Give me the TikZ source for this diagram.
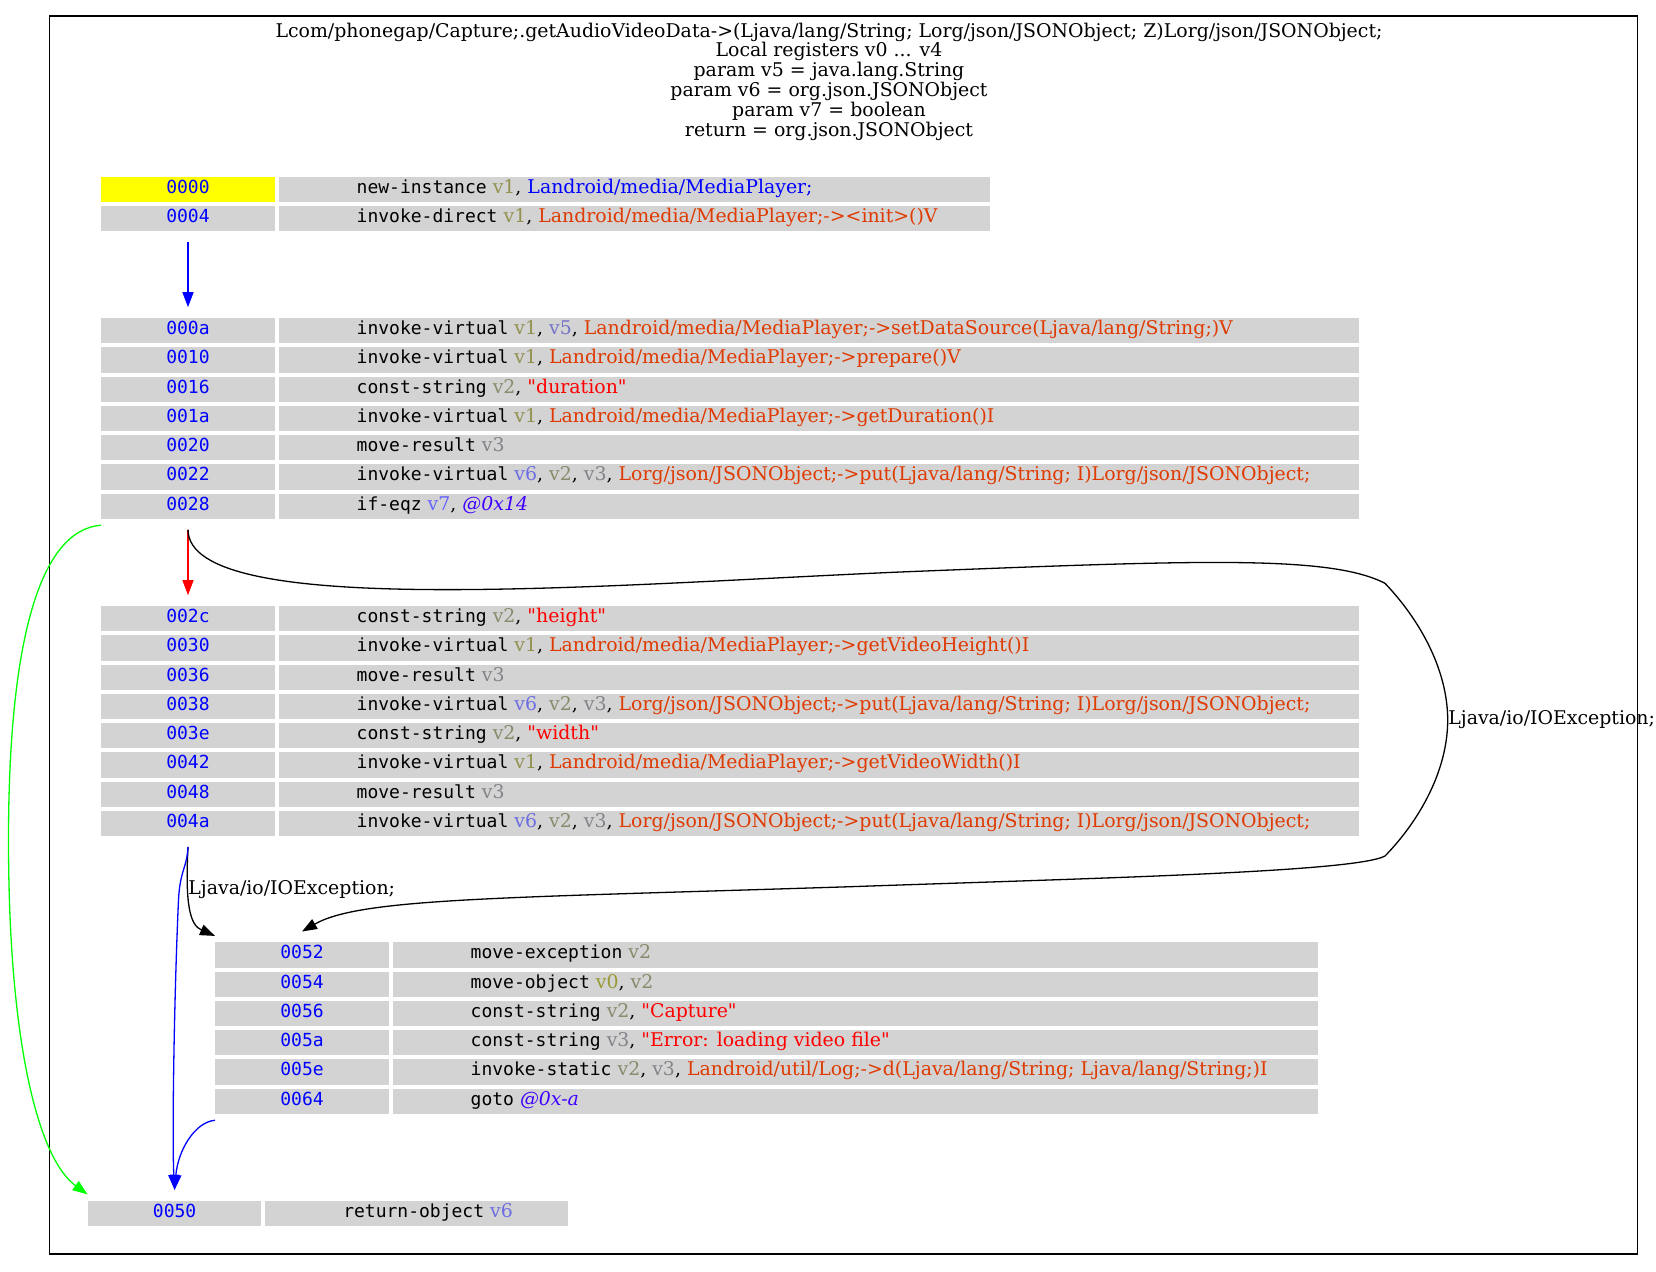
\documentclass[tikz,border=0pt]{standalone}
\usepackage{fontspec}
\setmainfont{DejaVu Serif}[Ligatures=TeXOff]
\newfontfamily\monof{DejaVu Sans Mono}
\usetikzlibrary{arrows.meta,fit}

% cell and operand colours
\definecolor{cellgray}{HTML}{D3D3D3}
\definecolor{startbg}{HTML}{FFFF00}
\definecolor{reg0}{HTML}{999933}
\definecolor{reg1}{RGB}{146,146,80}
\definecolor{reg2}{RGB}{138,138,109}
\definecolor{reg3}{RGB}{131,131,138}
\definecolor{reg5}{RGB}{117,117,197}
\definecolor{reg6}{RGB}{109,109,226}
\definecolor{reg7}{RGB}{102,102,255}
\definecolor{methodc}{HTML}{DF3A01}
\definecolor{typec}{HTML}{0000FF}
\definecolor{offsetc}{HTML}{4000FF}

\newcommand\sz{\fontsize{9.45pt}{10.5pt}\selectfont}
\newcommand\msz{\fontsize{9pt}{10pt}\selectfont}
\newcommand\regv[1]{\textcolor{reg#1}{v#1}}
\newcommand\mth[1]{\textcolor{methodc}{#1}}
\newcommand\typ[1]{\textcolor{typec}{#1}}
\newcommand\strc[1]{\textcolor{red}{#1}}
\newcommand\ofs[1]{\textcolor{offsetc}{\itshape #1}}
\newcommand\op[1]{{\monof\msz #1}}

\tikzset{
  cell/.style={rectangle, inner sep=0pt, minimum height=12.65pt, fill=cellgray},
  addrcell/.style={cell, minimum width=86.6pt, text=blue, font=\monof\msz,
                   text height=6pt, text depth=2pt},
  inscell/.style={cell},
  instxt/.style={anchor=base west, inner sep=0pt, font=\sz},
  blockbox/.style={inner sep=5pt, draw=none},
  link/.style={line width=0.65pt, -{Triangle[length=7.5pt,width=5.5pt]}},
  jump/.style={link, blue},
  falsebr/.style={link, red},
  truebr/.style={link, green},
  exc/.style={link, black},
  elabel/.style={font=\sz, inner sep=0pt},
  frame/.style={draw=black, line width=0.7pt},
  titletxt/.style={font=\sz, anchor=base, inner sep=0pt}
}

% one instruction row: name, block left x, row centre y, instruction cell width, address, text, address style
\newcommand\insrow[7]{%
  \node[addrcell,#7] (#1a) at ({#2+86.6},#3) {#5};
  \node[inscell, minimum width={#4*0.5pt}] (#1i) at ({#2+177.4+#4/2},#3) {};
  \node[instxt] (#1t) at ({#2+254.9},{#3+4}) {#6};
}

\begin{document}
\begin{tikzpicture}[x=0.5pt,y=-0.5pt]
\useasboundingbox (0,0) rectangle (1656,1271);

% method frame and header
\draw[frame] (49.3,16) rectangle (1637.7,1254);
\node[titletxt] (t1) at (829,37) {Lcom/phonegap/Capture;.getAudioVideoData->(Ljava/lang/String; Lorg/json/JSONObject; Z)Lorg/json/JSONObject;};
\node[titletxt] (t2) at (829,56.85) {Local registers v0 ... v4};
\node[titletxt] (t3) at (829,76.7) {param v5 = java.lang.String};
\node[titletxt] (t4) at (829,96.55) {param v6 = org.json.JSONObject};
\node[titletxt] (t5) at (829,116.4) {param v7 = boolean};
\node[titletxt] (t6) at (829,136.25) {return = org.json.JSONObject};

% block A
\insrow{r0000}{101.4}{189.35}{710.8}{0000}{\op{new-instance} \regv{1}, \typ{Landroid/media/MediaPlayer;}}{fill=startbg}
\insrow{r0004}{101.4}{218.6}{710.8}{0004}{\op{invoke-direct} \regv{1}, \mth{Landroid/media/MediaPlayer;-><init>()V}}{}
\node[blockbox, fit=(r0000a)(r0004i)] (A) {};

% block B
\insrow{r000a}{101.4}{330.65}{1080.4}{000a}{\op{invoke-virtual} \regv{1}, \regv{5}, \mth{Landroid/media/MediaPlayer;->setDataSource(Ljava/lang/String;)V}}{}
\insrow{r0010}{101.4}{359.9}{1080.4}{0010}{\op{invoke-virtual} \regv{1}, \mth{Landroid/media/MediaPlayer;->prepare()V}}{}
\insrow{r0016}{101.4}{389.15}{1080.4}{0016}{\op{const-string} \regv{2}, \strc{"duration"}}{}
\insrow{r001a}{101.4}{418.4}{1080.4}{001a}{\op{invoke-virtual} \regv{1}, \mth{Landroid/media/MediaPlayer;->getDuration()I}}{}
\insrow{r0020}{101.4}{447.65}{1080.4}{0020}{\op{move-result} \regv{3}}{}
\insrow{r0022}{101.4}{476.9}{1080.4}{0022}{\op{invoke-virtual} \regv{6}, \regv{2}, \regv{3}, \mth{Lorg/json/JSONObject;->put(Ljava/lang/String; I)Lorg/json/JSONObject;}}{}
\insrow{r0028}{101.4}{506.15}{1080.4}{0028}{\op{if-eqz} \regv{7}, \ofs{@0x14}}{}
\node[blockbox, fit=(r000aa)(r0028i)] (B) {};

% block C
\insrow{r002c}{101.4}{618.65}{1080.4}{002c}{\op{const-string} \regv{2}, \strc{"height"}}{}
\insrow{r0030}{101.4}{647.9}{1080.4}{0030}{\op{invoke-virtual} \regv{1}, \mth{Landroid/media/MediaPlayer;->getVideoHeight()I}}{}
\insrow{r0036}{101.4}{677.15}{1080.4}{0036}{\op{move-result} \regv{3}}{}
\insrow{r0038}{101.4}{706.4}{1080.4}{0038}{\op{invoke-virtual} \regv{6}, \regv{2}, \regv{3}, \mth{Lorg/json/JSONObject;->put(Ljava/lang/String; I)Lorg/json/JSONObject;}}{}
\insrow{r003e}{101.4}{735.65}{1080.4}{003e}{\op{const-string} \regv{2}, \strc{"width"}}{}
\insrow{r0042}{101.4}{764.9}{1080.4}{0042}{\op{invoke-virtual} \regv{1}, \mth{Landroid/media/MediaPlayer;->getVideoWidth()I}}{}
\insrow{r0048}{101.4}{794.15}{1080.4}{0048}{\op{move-result} \regv{3}}{}
\insrow{r004a}{101.4}{823.4}{1080.4}{004a}{\op{invoke-virtual} \regv{6}, \regv{2}, \regv{3}, \mth{Lorg/json/JSONObject;->put(Ljava/lang/String; I)Lorg/json/JSONObject;}}{}
\node[blockbox, fit=(r002ca)(r004ai)] (C) {};

% block D (exception handler)
\insrow{r0052}{215.4}{954.95}{925.1}{0052}{\op{move-exception} \regv{2}}{}
\insrow{r0054}{215.4}{984.2}{925.1}{0054}{\op{move-object} \regv{0}, \regv{2}}{}
\insrow{r0056}{215.4}{1013.45}{925.1}{0056}{\op{const-string} \regv{2}, \strc{"Capture"}}{}
\insrow{r005a}{215.4}{1042.7}{925.1}{005a}{\op{const-string} \regv{3}, \strc{"Error: loading video file"}}{}
\insrow{r005e}{215.4}{1071.95}{925.1}{005e}{\op{invoke-static} \regv{2}, \regv{3}, \mth{Landroid/util/Log;->d(Ljava/lang/String; Ljava/lang/String;)I}}{}
\insrow{r0064}{215.4}{1101.2}{925.1}{0064}{\op{goto} \ofs{@0x-a}}{}
\node[blockbox, fit=(r0052a)(r0064i)] (D) {};

% block E
\insrow{r0050}{88}{1213.35}{302.6}{0050}{\op{return-object} \regv{6}}{}
\node[blockbox, fit=(r0050a)(r0050i)] (E) {};

% control flow
\draw[jump] (r0004a |- A.south) -- (r000aa |- B.north);
\draw[falsebr] (r0028a |- B.south) -- (r002ca |- C.north);
\draw[truebr] ([yshift=-3pt]r0028a.south west) .. controls (40,530) and (8,640) .. (8.5,845)
  .. controls (9,1050) and (40,1160) .. ([yshift=3pt]r0050a.north west);
\draw[exc] (r0028a |- B.south) .. controls (188.3,620) and (600,585) .. (900,572)
  .. controls (1200,560) and (1330,555) .. (1385,583.3)
  .. controls (1420,620) and (1447.7,670) .. (1447.7,720)
  node[elabel, anchor=west] (lab1) {Ljava/io/IOException;}
  .. controls (1447.7,770) and (1420,820) .. (1385,856)
  .. controls (1355,872) and (1100,878) .. (850,886.7)
  .. controls (500,898) and (360,898) .. (r0052a |- D.north);
\draw[exc] (r004aa |- C.south) .. controls (185,905) and (190,925) .. ([yshift=3pt]r0052a.north west)
  node[elabel, pos=0.3, anchor=west] (lab2) {Ljava/io/IOException;};
\draw[jump] (r004aa |- C.south) .. controls (187,868) and (180,870) .. (178.5,900)
  .. controls (174,1000) and (172,1140) .. (r0050a |- E.north);
\draw[jump] ([yshift=-3pt]r0064a.south west) .. controls (195,1122) and (178,1150) .. (r0050a |- E.north);
\end{tikzpicture}
\end{document}
